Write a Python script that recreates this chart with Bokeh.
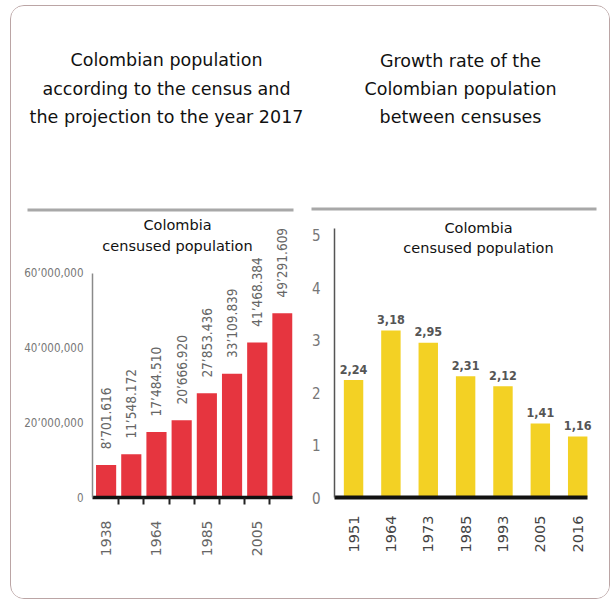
import math
from bokeh.plotting import figure
from bokeh.models import Range1d, FixedTicker, Label, BoxAnnotation
from bokeh.layouts import row, column
from bokeh.embed import file_html
from bokeh.resources import INLINE
from bokeh.core.properties import value

# ---------------- data ----------------
census_years = ["1938", "1951", "1964", "1973", "1985", "1993", "2005", "2017"]
population = [8701616, 11548172, 17484510, 20666920, 27853436, 33109839, 41468384, 49291609]
population_labels = ["8’701.616", "11’548.172", "17’484.510", "20’666.920",
                     "27’853.436", "33’109.839", "41’468.384", "49’291.609"]
pop_ticks = [0, 20000000, 40000000, 60000000]
pop_tick_labels = ["0", "20’000,000", "40’000,000", "60’000,000"]

rate_years = ["1951", "1964", "1973", "1985", "1993", "2005", "2016"]
growth_rate = [2.24, 3.18, 2.95, 2.31, 2.12, 1.41, 1.16]
rate_labels = ["2,24", "3,18", "2,95", "2,31", "2,12", "1,41", "1,16"]
rate_ticks = [0, 1, 2, 3, 4, 5]

title_left = ["Colombian population", "according to the census and", "the projection to the year 2017"]
title_right = ["Growth rate of the", "Colombian population", "between censuses"]
subtitle = ["Colombia", "censused population"]

# ---------------- styles ----------------
SANS = "DejaVu Sans"
COND = "Liberation Sans Narrow, DejaVu Sans Condensed, sans-serif"
HEAD_W, HEAD_H = 598, 206
H = 386


def base_fig(width, xr, yr, ml, mr, mb):
    p = figure(width=width, height=H, x_range=xr, y_range=yr,
               output_backend="svg", toolbar_location=None,
               min_border_left=ml, min_border_right=mr,
               min_border_top=0, min_border_bottom=mb)
    p.title.visible = False
    p.xgrid.visible = False
    p.ygrid.visible = False
    p.outline_line_color = None
    p.background_fill_color = "white"
    p.border_fill_color = "white"
    return p


def add_text(p, x, y, text, size, units="screen", color="#111111", font=SANS):
    p.add_layout(Label(x=x, y=y, x_units=units, y_units=units, text=text,
                       text_align="center", text_baseline="middle",
                       text_font=font, text_font_size=size, text_color=color))


# ---------------- header (titles + rules) ----------------
head = figure(width=HEAD_W, height=HEAD_H, x_range=Range1d(0, HEAD_W), y_range=Range1d(0, HEAD_H),
              output_backend="svg", toolbar_location=None,
              x_axis_location=None, y_axis_location=None, min_border=0)
head.title.visible = False
head.grid.visible = False
head.outline_line_color = None
head.border_fill_color = "white"
# page coords -> header coords: x - 11, 212 - y
for txt, py in zip(title_left, [59, 88, 116]):
    add_text(head, 166 - 11, 212 - py, txt, "17.5px", units="data")
for txt, py in zip(title_right, [60, 88, 116]):
    add_text(head, 460 - 11, 212 - py, txt, "17.5px", units="data")
head.add_layout(BoxAnnotation(left=27 - 11, right=293 - 11, bottom=212 - 211, top=212 - 208,
                              fill_color="#a8a8a8", fill_alpha=1.0, line_color=None))
head.add_layout(BoxAnnotation(left=311 - 11, right=596 - 11, bottom=212 - 210, top=212 - 207,
                              fill_color="#a8a8a8", fill_alpha=1.0, line_color=None))

# ---------------- left chart ----------------
n1 = len(population)
idx1 = list(range(n1))
p1 = base_fig(297, Range1d(-0.54, n1 - 0.6), Range1d(0, 76.2e6), 81, 16, 98)
p1.vbar(x=idx1, top=population, width=0.8, fill_color="#e6353f", line_color=None)
p1.text(x=idx1, y=[v + 4.2e6 for v in population], text=population_labels,
        angle=math.pi / 2, text_align="left", text_baseline="middle",
        text_font=value(COND), text_font_size="13.5px", text_color="#666666")

ya = p1.yaxis[0]
ya.ticker = FixedTicker(ticks=pop_ticks)
ya.major_label_overrides = dict(zip(pop_ticks, pop_tick_labels))
ya.bounds = (0, pop_ticks[-1])
ya.axis_line_color = "#8a8a8a"
ya.axis_line_width = 1.5
ya.major_tick_line_color = None
ya.minor_tick_line_color = None
ya.major_label_text_font = COND
ya.major_label_text_font_size = "11.5px"
ya.major_label_text_color = "#777777"
ya.major_label_standoff = 3

xa = p1.xaxis[0]
major1 = list(range(0, n1 - 1, 2))
xa.ticker = FixedTicker(ticks=major1, minor_ticks=[i + 0.5 for i in range(n1 - 1)])
xa.major_label_overrides = {i: census_years[i] for i in major1}
xa.axis_line_color = "#111111"
xa.axis_line_width = 3.5
xa.major_tick_line_color = None
xa.minor_tick_line_color = "#222222"
xa.minor_tick_line_width = 2
xa.minor_tick_in = 0
xa.minor_tick_out = 7
xa.major_label_orientation = math.pi / 2
xa.major_label_text_font = SANS
xa.major_label_text_font_size = "14px"
xa.major_label_text_color = "#666666"
xa.major_label_standoff = 16

# subtitle (screen units relative to frame: left page x 92, bottom page y 500)
for txt, py in zip(subtitle, [227, 248]):
    add_text(p1, 177 - 92, 500 - py, txt, "14.5px")

# ---------------- right chart ----------------
n2 = len(growth_rate)
idx2 = list(range(n2))
p2 = base_fig(301, Range1d(-0.51, n2 - 0.55), Range1d(0, 5.43), 26, 15, 101)
p2.vbar(x=idx2, top=growth_rate, width=0.52, fill_color="#f3d124", line_color=None)
p2.text(x=idx2, y=[v + 0.12 for v in growth_rate], text=rate_labels,
        text_align="center", text_baseline="bottom",
        text_font=value(COND), text_font_style="bold",
        text_font_size="12.5px", text_color="#555555")

ya2 = p2.yaxis[0]
ya2.ticker = FixedTicker(ticks=rate_ticks)
ya2.bounds = (0, 5.12)
ya2.axis_line_color = "#555555"
ya2.axis_line_width = 1.5
ya2.major_tick_line_color = None
ya2.minor_tick_line_color = None
ya2.major_label_text_font = COND
ya2.major_label_text_font_size = "15px"
ya2.major_label_text_color = "#777777"
ya2.major_label_standoff = 8

xa2 = p2.xaxis[0]
xa2.ticker = FixedTicker(ticks=idx2)
xa2.major_label_overrides = {i: rate_years[i] for i in idx2}
xa2.bounds = (-0.51, n2 - 0.74)
xa2.axis_line_color = "#111111"
xa2.axis_line_width = 4
xa2.major_tick_line_color = None
xa2.minor_tick_line_color = None
xa2.major_label_orientation = math.pi / 2
xa2.major_label_text_font = SANS
xa2.major_label_text_font_size = "14.5px"
xa2.major_label_text_color = "#444444"
xa2.major_label_standoff = 12

# subtitle (frame: left page x 334, bottom page y 497)
for txt, py in zip(subtitle, [227, 247]):
    add_text(p2, 478 - 334, 497 - py, txt, "14.5px")

layout = column(head, row(p1, p2), margin=(5, 0, 0, 10),
                styles={"border": "1px solid #bba5a5", "border-radius": "14px",
                        "overflow": "hidden"})

open("out.html", "w").write(file_html(layout, INLINE))
